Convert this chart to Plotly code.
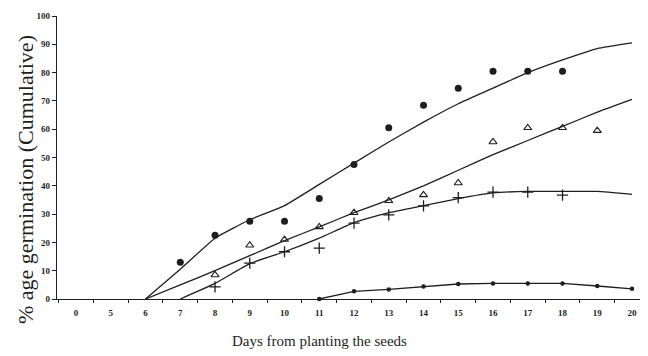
import plotly.graph_objects as go

# Category labels of the x axis (evenly spaced positions)
x_labels = ["0", "5", "6", "7", "8", "9", "10", "11", "12", "13", "14", "15", "16", "17", "18", "19", "20"]

def pos(day):
    return x_labels.index(str(day))

# Observed points
circle_days = [7, 8, 9, 10, 11, 12, 13, 14, 15, 16, 17, 18]
circle_vals = [13, 22.5, 27.5, 27.5, 35.5, 47.5, 60.5, 68.5, 74.5, 80.5, 80.5, 80.5]

tri_days = [8, 9, 10, 11, 12, 13, 14, 15, 16, 17, 18, 19]
tri_vals = [8.5, 19, 21, 25.5, 30.5, 34.7, 36.8, 41, 55.5, 60.5, 60.5, 59.5]

plus_days = [8, 9, 10, 11, 12, 13, 14, 15, 16, 17, 18]
plus_vals = [4.3, 12.7, 16.7, 18, 26.8, 29.7, 32.9, 35.8, 37.8, 37.8, 36.7]

# Fitted curves
fit1_days = [6, 7, 8, 9, 10, 11, 12, 13, 14, 15, 16, 17, 18, 19, 20]
fit1_vals = [0, 10.5, 21.5, 28, 33, 40.5, 48, 55.5, 62.5, 69, 74.5, 80, 84.5, 88.5, 90.5]

fit2_days = [6, 7, 8, 9, 10, 11, 12, 13, 14, 15, 16, 17, 18, 19, 20]
fit2_vals = [0, 5, 10, 15.3, 20.6, 25.5, 30.5, 35, 40, 45.5, 51, 56, 61, 66, 70.5]

fit3_days = [7, 8, 9, 10, 11, 12, 13, 14, 15, 16, 17, 18, 19, 20]
fit3_vals = [0, 5.5, 12.5, 16.7, 21.5, 27, 30.5, 33, 35.5, 37.5, 38, 38, 38, 37]

low_days = [11, 12, 13, 14, 15, 16, 17, 18, 19, 20]
low_vals = [0, 2.7, 3.4, 4.4, 5.3, 5.5, 5.5, 5.5, 4.6, 3.6]

y_ticks = [0, 10, 20, 30, 40, 50, 60, 70, 80, 90, 100]

INK = "#1e1e1e"
LINE_W = 1.3

fig = go.Figure()

for d, v in [(fit1_days, fit1_vals), (fit2_days, fit2_vals), (fit3_days, fit3_vals)]:
    fig.add_trace(go.Scatter(x=[pos(k) for k in d], y=v, mode="lines",
                             line=dict(color=INK, width=LINE_W, shape="spline", smoothing=0.4),
                             hoverinfo="skip", cliponaxis=False))

fig.add_trace(go.Scatter(x=[pos(k) for k in low_days], y=low_vals, mode="lines+markers",
                         line=dict(color=INK, width=LINE_W),
                         marker=dict(symbol="circle", size=4.5, color=INK),
                         cliponaxis=False))

fig.add_trace(go.Scatter(x=[pos(k) for k in circle_days], y=circle_vals, mode="markers",
                         marker=dict(symbol="circle", size=7, color=INK), cliponaxis=False))
fig.add_trace(go.Scatter(x=[pos(k) for k in tri_days], y=tri_vals, mode="markers",
                         marker=dict(symbol="triangle-up-open", size=7,
                                     color=INK, line=dict(width=1.1, color=INK)),
                         cliponaxis=False))
fig.add_trace(go.Scatter(x=[pos(k) for k in plus_days], y=plus_vals, mode="markers",
                         marker=dict(symbol="cross-thin", size=8,
                                     line=dict(width=1.3, color=INK)),
                         cliponaxis=False))

tickfont = dict(family="Liberation Serif", size=9, color=INK, weight="bold")

# The page places the figure 8px from the top-left corner (default body margin),
# so the figure is 8px smaller and margins are shifted accordingly.
fig.update_layout(
    width=640, height=348,
    margin=dict(l=49, r=0, t=8, b=57),
    paper_bgcolor="white", plot_bgcolor="white",
    showlegend=False,
    xaxis=dict(
        range=[-0.547, 16.46],
        tickmode="array", tickvals=list(range(len(x_labels))), ticktext=x_labels,
        ticks="", tickfont=tickfont, ticklabelstandoff=5,
        showgrid=False, zeroline=False,
        showline=True, linecolor=INK, linewidth=1.2,
        minor=dict(tickmode="linear", tick0=0.5, dtick=1, ticks="outside",
                   ticklen=3, tickcolor=INK, tickwidth=1, showgrid=False),
    ),
    yaxis=dict(
        range=[0, 100],
        tickmode="array", tickvals=y_ticks,
        ticks="outside", ticklen=4, tickcolor=INK, tickwidth=1,
        tickfont=tickfont,
        showgrid=False, zeroline=False,
        showline=True, linecolor=INK, linewidth=1.2,
    ),
    annotations=[
        dict(text="Days from planting the seeds", xref="paper", yref="paper",
             x=(311 - 49) / 591, y=-42 / 283, xanchor="center", yanchor="middle",
             showarrow=False,
             font=dict(family="Liberation Serif", size=15, color=INK)),
        dict(text="% age germination (Cumulative)", xref="paper", yref="paper",
             x=(17 - 49) / 591, y=(291 - 172) / 283, xanchor="center", yanchor="middle",
             showarrow=False, textangle=-90,
             font=dict(family="Liberation Serif", size=22, color=INK)),
    ],
)

fig.write_html("out.html")
